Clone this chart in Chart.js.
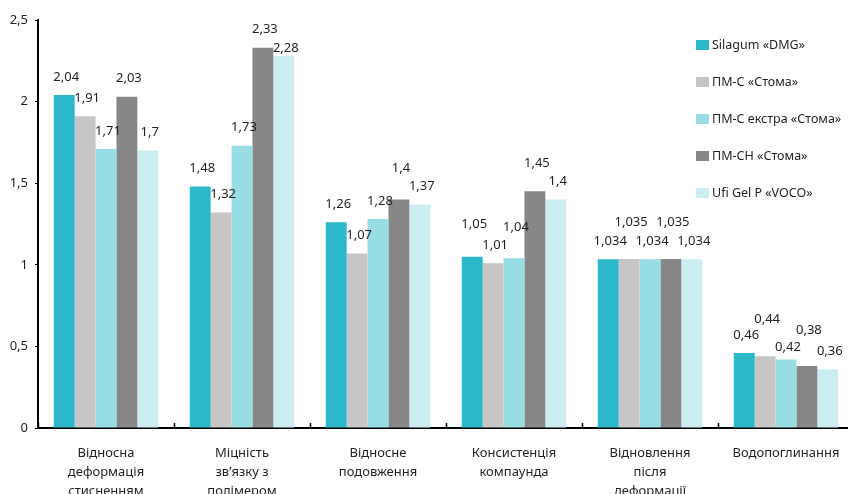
<!DOCTYPE html>
<html><head><meta charset="utf-8">
<script src="https://cdn.jsdelivr.net/npm/chart.js@4/dist/chart.umd.min.js"></script>
<style>html,body{margin:0;padding:0;background:#fff;overflow:hidden}#wrap{width:856px;height:494px}</style>
</head><body><div id="wrap"><canvas id="c" width="856" height="494"></canvas></div>
<script>
const categories = [
  ["Відносна","деформація","стисненням"],
  ["Міцність","зв’язку з","полімером"],
  ["Відносне","подовження"],
  ["Консистенція","компаунда"],
  ["Відновлення","після","деформації"],
  ["Водопоглинання"]
];
const seriesNames = ["Silagum «DMG»","ПМ-С «Стома»","ПМ-С екстра «Стома»","ПМ-СН «Стома»","Ufi Gel P «VOCO»"];
const silagum   = [2.04, 1.48, 1.26, 1.05, 1.034, 0.46];
const pmS       = [1.91, 1.32, 1.07, 1.01, 1.035, 0.44];
const pmSExtra  = [1.71, 1.73, 1.28, 1.04, 1.034, 0.42];
const pmSN      = [2.03, 2.33, 1.40, 1.45, 1.035, 0.38];
const ufiGel    = [1.70, 2.28, 1.37, 1.40, 1.034, 0.36];
const yTicks = [0, 0.5, 1, 1.5, 2, 2.5];

const colors = ["#2cb8c9","#c6c6c6","#98dde4","#878787","#cbedf1"];
// vertical shift of value labels to avoid overlaps (px)
const labelShift = [
  [0,0,0,-14,0,0],
  [0,0,0,0,-19,-19],
  [0,0,0,-13,0,6],
  [0,0,-13,-10,-19,-18],
  [0,10,0,0,0,0]
];
const FONT = "'Noto Sans', sans-serif";
const TXT = "#231f20";
const fmt = v => String(v).replace('.', ',');

const valuePlugin = {
  id: 'values',
  afterDatasetsDraw(chart) {
    const ctx = chart.ctx;
    ctx.save();
    ctx.font = "13px " + FONT;
    ctx.fillStyle = TXT;
    ctx.textAlign = 'center';
    ctx.textBaseline = 'middle';
    chart.data.datasets.forEach((ds, i) => {
      chart.getDatasetMeta(i).data.forEach((bar, j) => {
        ctx.fillText(fmt(ds.data[j]), bar.x + 2, bar.y - 18 + labelShift[i][j]);
      });
    });
    // x-axis inner ticks at category boundaries
    const xs = chart.scales.x, a = chart.chartArea;
    const step = xs.getPixelForValue(1) - xs.getPixelForValue(0);
    ctx.strokeStyle = '#000'; ctx.lineWidth = 1.5;
    for (let k = 0; k <= categories.length; k++) {
      const px = Math.round(xs.getPixelForValue(0) - step / 2 + k * step) + 0.5;
      ctx.beginPath(); ctx.moveTo(px, a.bottom); ctx.lineTo(px, a.bottom - 5); ctx.stroke();
    }
    // legend
    ctx.textAlign = 'left';
    ctx.font = "12.5px " + FONT;
    chart.data.datasets.forEach((ds, i) => {
      const y = 45 + i * 37;
      ctx.fillStyle = ds.backgroundColor;
      ctx.fillRect(696, y - 5, 13, 10);
      ctx.fillStyle = TXT;
      ctx.fillText(ds.label, 712, y);
    });
    ctx.restore();
  }
};

const dataSets = [silagum, pmS, pmSExtra, pmSN, ufiGel];
new Chart(document.getElementById('c'), {
  type: 'bar',
  data: {
    labels: categories,
    datasets: dataSets.map((d, i) => ({
      label: seriesNames[i], data: d, backgroundColor: colors[i],
      borderWidth: 0, categoryPercentage: 0.768, barPercentage: 1
    }))
  },
  options: {
    responsive: false, animation: false,
    layout: { padding: { top: 20, right: 2, left: 0, bottom: 0 } },
    plugins: { legend: { display: false }, tooltip: { enabled: false } },
    scales: {
      x: {
        grid: { display: false, drawTicks: false },
        border: { display: true, color: '#000', width: 2 },
        ticks: { color: TXT, font: { family: FONT, size: 13, lineHeight: 1.45 }, padding: 16, maxRotation: 0, autoSkip: false },
        afterFit(s) { s.height = 66; }
      },
      y: {
        min: 0, max: 2.5,
        afterBuildTicks(s) { s.ticks = yTicks.map(v => ({ value: v })); },
        grid: { drawOnChartArea: false, drawTicks: true, tickLength: 3, tickColor: '#000', tickWidth: 1 },
        border: { display: true, color: '#000', width: 2 },
        ticks: { color: TXT, font: { family: FONT, size: 13 }, padding: 7, callback: v => fmt(v) },
        afterFit(s) { s.width = 38; }
      }
    }
  },
  plugins: [valuePlugin]
});
</script></body></html>
